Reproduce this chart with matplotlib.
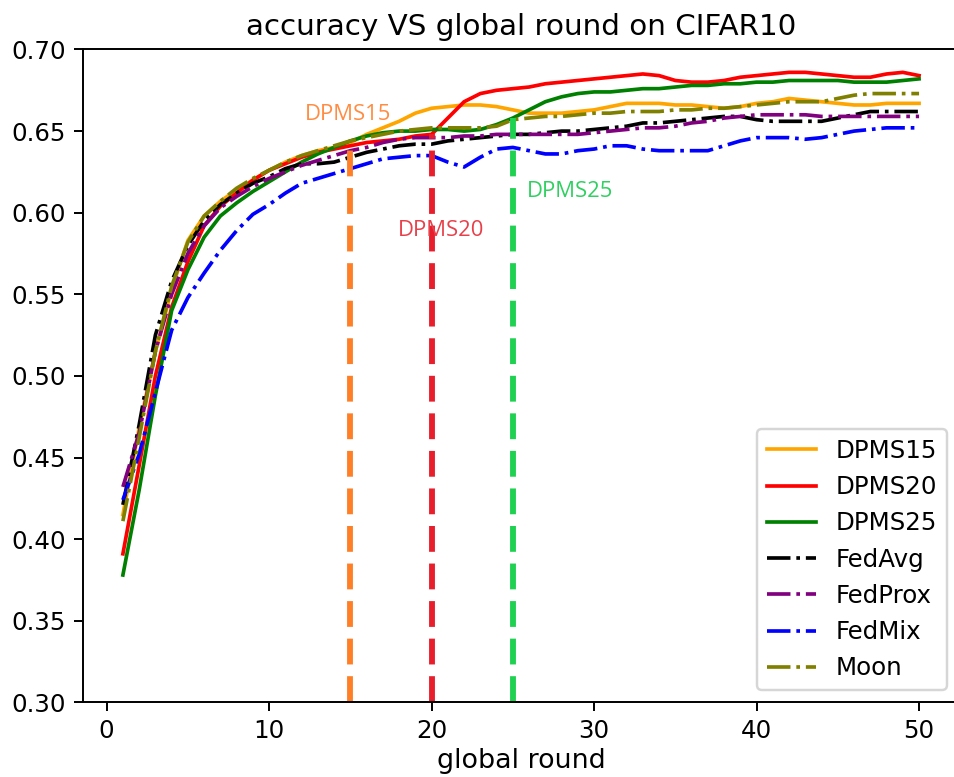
import matplotlib
matplotlib.use("Agg")
import matplotlib.pyplot as plt
import numpy as np

rounds = np.arange(1, 51)

dpms15 = [0.415, 0.468, 0.515, 0.553, 0.583, 0.598, 0.607, 0.614, 0.620, 0.626,
          0.631, 0.635, 0.638, 0.640, 0.643, 0.648, 0.652, 0.656, 0.661, 0.664,
          0.665, 0.666, 0.666, 0.665, 0.663, 0.661, 0.661, 0.661, 0.662, 0.663,
          0.665, 0.667, 0.667, 0.667, 0.666, 0.666, 0.665, 0.664, 0.665, 0.667,
          0.668, 0.670, 0.669, 0.668, 0.667, 0.666, 0.666, 0.667, 0.667, 0.667]
dpms20 = [0.391, 0.445, 0.500, 0.542, 0.570, 0.592, 0.604, 0.612, 0.620, 0.626,
          0.630, 0.634, 0.637, 0.639, 0.641, 0.643, 0.644, 0.645, 0.647, 0.648,
          0.658, 0.668, 0.673, 0.675, 0.676, 0.677, 0.679, 0.680, 0.681, 0.682,
          0.683, 0.684, 0.685, 0.684, 0.681, 0.680, 0.680, 0.681, 0.683, 0.684,
          0.685, 0.686, 0.686, 0.685, 0.684, 0.683, 0.683, 0.685, 0.686, 0.684]
dpms25 = [0.378, 0.430, 0.488, 0.540, 0.565, 0.585, 0.598, 0.606, 0.613, 0.619,
          0.625, 0.631, 0.636, 0.640, 0.644, 0.647, 0.649, 0.650, 0.650, 0.651,
          0.651, 0.650, 0.651, 0.654, 0.658, 0.663, 0.668, 0.671, 0.673, 0.674,
          0.674, 0.675, 0.676, 0.676, 0.677, 0.678, 0.678, 0.679, 0.679, 0.680,
          0.680, 0.681, 0.681, 0.681, 0.681, 0.680, 0.680, 0.680, 0.681, 0.682]
fedavg = [0.421, 0.470, 0.525, 0.558, 0.580, 0.595, 0.605, 0.612, 0.618, 0.622,
          0.627, 0.630, 0.630, 0.631, 0.634, 0.637, 0.639, 0.641, 0.642, 0.642,
          0.644, 0.645, 0.646, 0.647, 0.648, 0.648, 0.649, 0.650, 0.650, 0.651,
          0.652, 0.653, 0.655, 0.655, 0.656, 0.657, 0.658, 0.659, 0.659, 0.657,
          0.656, 0.656, 0.656, 0.656, 0.658, 0.660, 0.662, 0.662, 0.662, 0.662]
fedprox = [0.432, 0.465, 0.515, 0.550, 0.575, 0.592, 0.603, 0.610, 0.616, 0.621,
           0.625, 0.629, 0.632, 0.635, 0.638, 0.640, 0.643, 0.645, 0.646, 0.646,
           0.646, 0.647, 0.647, 0.648, 0.648, 0.648, 0.648, 0.648, 0.648, 0.649,
           0.650, 0.651, 0.652, 0.652, 0.653, 0.655, 0.656, 0.658, 0.659, 0.660,
           0.660, 0.660, 0.660, 0.659, 0.659, 0.659, 0.659, 0.659, 0.659, 0.659]
fedmix = [0.424, 0.452, 0.490, 0.528, 0.548, 0.563, 0.577, 0.589, 0.599, 0.605,
          0.612, 0.618, 0.621, 0.624, 0.627, 0.630, 0.633, 0.634, 0.635, 0.635,
          0.631, 0.628, 0.634, 0.639, 0.640, 0.638, 0.636, 0.636, 0.638, 0.639,
          0.641, 0.641, 0.639, 0.638, 0.638, 0.638, 0.638, 0.641, 0.644, 0.646,
          0.646, 0.646, 0.645, 0.646, 0.648, 0.650, 0.651, 0.652, 0.652, 0.652]
moon = [0.411, 0.462, 0.515, 0.555, 0.582, 0.598, 0.607, 0.615, 0.621, 0.626,
        0.631, 0.635, 0.638, 0.641, 0.644, 0.646, 0.648, 0.650, 0.651, 0.652,
        0.652, 0.652, 0.652, 0.653, 0.657, 0.658, 0.659, 0.659, 0.660, 0.661,
        0.661, 0.662, 0.662, 0.662, 0.663, 0.663, 0.664, 0.664, 0.665, 0.666,
        0.667, 0.668, 0.668, 0.668, 0.670, 0.672, 0.673, 0.673, 0.673, 0.673]

# vertical markers: round, height reached, label and where the label sits
marker_rounds = [15, 20, 25]
marker_tops = [0.643, 0.648, 0.658]
marker_labels = ["DPMS15", "DPMS20", "DPMS25"]
marker_text_x = [14.85, 20.6, 28.5]
marker_text_y = [0.660, 0.589, 0.613]

fig = plt.figure(figsize=(954 / 176, 777 / 176), dpi=176)
ax = fig.add_axes([0.0871, 0.0961, 0.918, 0.8402])

ax.plot(rounds, dpms15, color="orange", label="DPMS15")
ax.plot(rounds, dpms20, color="red", label="DPMS20")
ax.plot(rounds, dpms25, color="green", label="DPMS25")
ax.plot(rounds, fedavg, color="black", linestyle="-.", label="FedAvg")
ax.plot(rounds, fedprox, color="purple", linestyle="-.", label="FedProx")
ax.plot(rounds, fedmix, color="blue", linestyle="-.", label="FedMix")
ax.plot(rounds, moon, color="olive", linestyle="-.", label="Moon")

line_cols = ["#ff7f27", "#e81e2c", "#1fd150"]
text_cols = ["#ff8c42", "#e8404a", "#2ed060"]
for r, top, lab, tx, ty, lc, tc in zip(marker_rounds, marker_tops, marker_labels,
                                       marker_text_x, marker_text_y, line_cols, text_cols):
    ax.plot([r, r], [0.30, top], color=lc, linestyle=(0, (4.4, 2.0)), linewidth=2.4)
    ax.text(tx, ty, lab, color=tc, fontsize=9, family=["Open Sans", "DejaVu Sans"],
            ha="center", va="center")

ax.set_ylim(0.30, 0.70)
ax.set_yticks(np.arange(0.30, 0.701, 0.05))
ax.set_xticks([0, 10, 20, 30, 40, 50])
ax.set_xlabel("global round", fontsize=11, labelpad=2)
ax.set_title("accuracy VS global round on CIFAR10", fontsize=12)
ax.legend(loc="lower right")

fig.savefig("out.png", dpi=176)
